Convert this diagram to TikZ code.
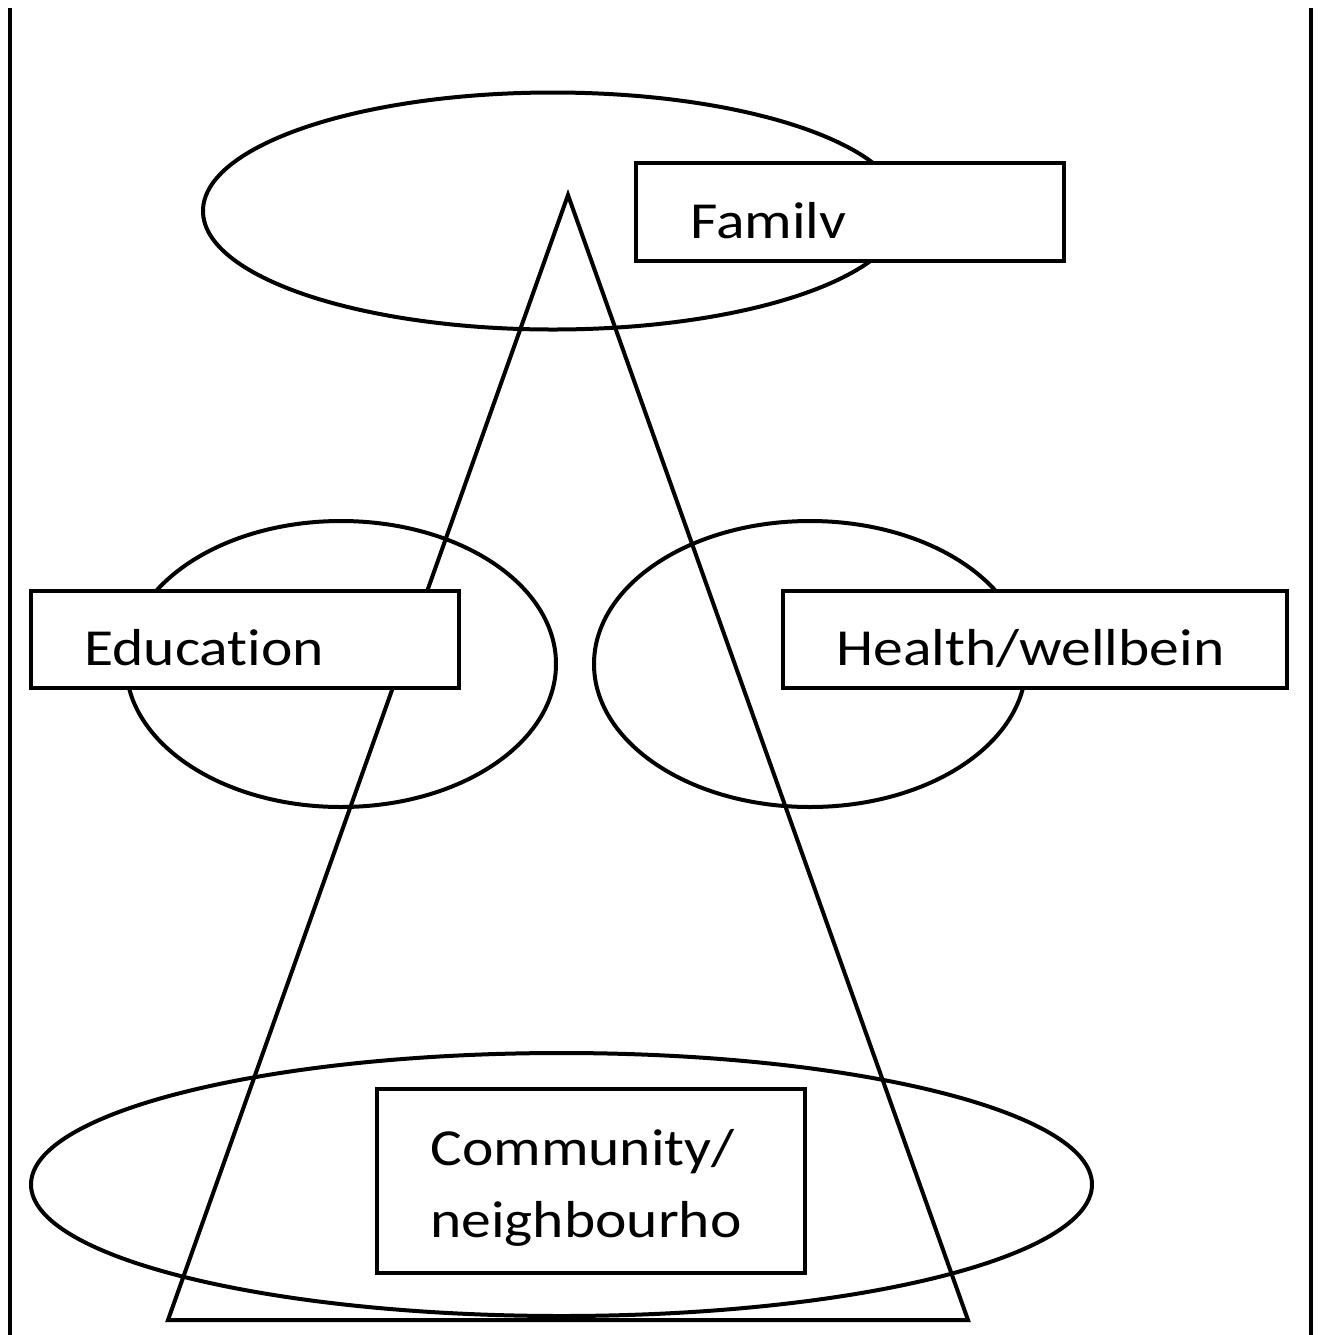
\documentclass[tikz,border=0pt]{standalone}
\usepackage{fontspec}
\setmainfont[Ligatures=NoCommon]{Carlito}
\newcommand{\wide}[1]{\scalebox{1.145}[1]{#1}}
\begin{document}
\begin{tikzpicture}[x=0.5pt,y=-0.5pt,
  outl/.style={draw=black,line width=2pt},
  box/.style={draw=black,line width=2pt,fill=white},
  lbl/.style={anchor=base west,inner sep=0pt,font=\fontsize{26}{30}\selectfont}]
\useasboundingbox (0,0) rectangle (1321,1335);
% ellipses
\draw[outl] (553,211) ellipse [x radius=350, y radius=118.5];
\draw[outl] (341,664) ellipse [x radius=215, y radius=143];
\draw[outl] (810,664) ellipse [x radius=216, y radius=143];
\draw[outl] (561.5,1184.5) ellipse [x radius=530.5, y radius=131.5];
% triangle
\coordinate (apex) at (568,195);
\coordinate (bl) at (168,1320);
\coordinate (br) at (968,1320);
\draw[outl,line join=miter] (apex) -- (br) -- (bl) -- cycle;
% boxes
\draw[box] (636,163) rectangle (1064,261);
\draw[box] (31,591) rectangle (459,688);
\draw[box] (783,591) rectangle (1287,688);
\draw[box] (377,1089) rectangle (805,1273);
% labels
\node[lbl] (fam) at (690,238) {\wide{Familv}};
\node[lbl] (edu) at (84,665) {\wide{Education}};
\node[lbl] (hea) at (836,665) {\wide{Health/wellbein}};
\node[lbl] (com1) at (430,1165) {\wide{Community/}};
\node[lbl] (com2) at (430,1237) {\wide{neighbourho}};
% side lines
\coordinate (lt) at (10,8);
\coordinate (lb) at (10,1335);
\coordinate (rt) at (1311,8);
\coordinate (rb) at (1311,1335);
\draw[outl] (lt) -- (lb);
\draw[outl] (rt) -- (rb);
\end{tikzpicture}
\end{document}
